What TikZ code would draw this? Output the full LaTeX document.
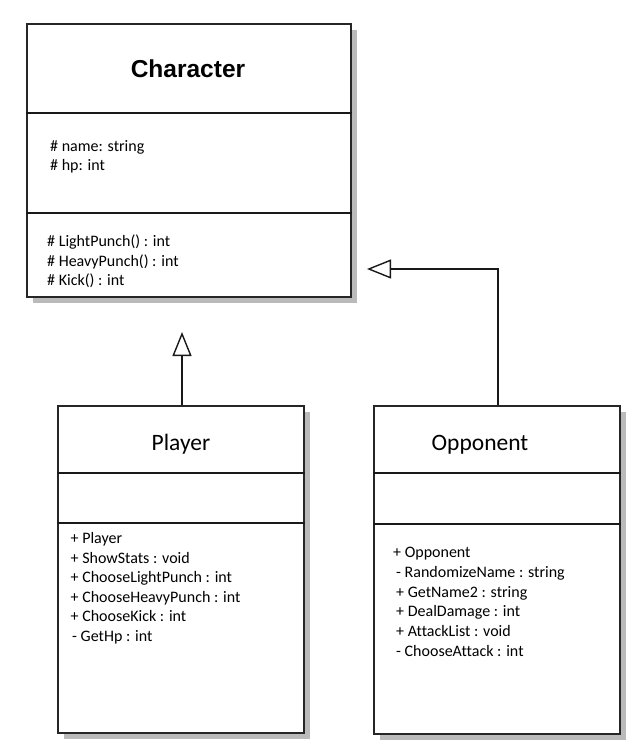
\documentclass[tikz,border=0pt]{standalone}
\usepackage{fontspec}
\setmainfont{Carlito}[Ligatures=NoCommon]
\newfontfamily\arialf{Liberation Sans}
\usetikzlibrary{arrows.meta,shadows}
\begin{document}
\begin{tikzpicture}[x=1pt,y=-1pt,
  cls/.style={draw=black!85, fill=white, rectangle, inner sep=0pt, anchor=north west,
    drop shadow={opacity=1, fill=black!27, shadow xshift=6pt, shadow yshift=-6pt}},
  div/.style={draw=black!90, line width=1.4pt},
  attr/.style={anchor=base west, inner sep=0pt, font=\fontsize{16}{19}\selectfont},
  ttl/.style={anchor=base, inner sep=0pt, font=\fontsize{23.5}{28}\selectfont},
  gen/.style={draw=black!90, line width=1.5pt, -{Triangle[open, length=24pt, width=19pt, line width=1.4pt]}}]
\useasboundingbox (0,0) rectangle (629,745);
\fill[white] (0,0) rectangle (629,745);

% Character
\node[cls, line width=2.2pt, minimum width=324pt, minimum height=273pt] (ch) at (26,23) {};
\draw[div] (ch.west |- 0,113) -- (ch.east |- 0,113);
\draw[div] (ch.west |- 0,213) -- (ch.east |- 0,213);
\node[anchor=base, inner sep=0pt, font=\arialf\bfseries\fontsize{24.5}{28}\selectfont] (cht) at (188,77) {Character};
\foreach \t [count=\i] in {{\# name: string},{\# hp: int}}
  \node[attr] (ca\i) at (50,{151+19.8*(\i-1)}) {\t};
\foreach \t [count=\i] in {{\# LightPunch() : int},{\# HeavyPunch() : int},{\# Kick() : int}}
  \node[attr] (cm\i) at (47,{246.5+19.5*(\i-1)}) {\t};

% Player
\node[cls, line width=1.8pt, minimum width=246pt, minimum height=327pt] (pl) at (57,405) {};
\draw[div] (pl.west |- 0,473) -- (pl.east |- 0,473);
\draw[div] (pl.west |- 0,523) -- (pl.east |- 0,523);
\node[ttl] (plt) at (181,450) {Player};
\foreach \t [count=\i] in {{+ Player},{+ ShowStats : void},{+ ChooseLightPunch : int},{+ ChooseHeavyPunch : int},{+ ChooseKick : int},{\hspace{1.5pt}- GetHp : int}}
  \node[attr] (pm\i) at (70.5,{543.5+19.5*(\i-1)}) {\t};

% Opponent
\node[cls, line width=1.8pt, minimum width=246pt, minimum height=328pt] (op) at (373,405) {};
\draw[div] (op.west |- 0,473) -- (op.east |- 0,473);
\draw[div] (op.west |- 0,524) -- (op.east |- 0,524);
\node[ttl] (opt) at (480,450) {Opponent};
\foreach \t [count=\i] in {{+ Opponent},{\hspace{3pt}- RandomizeName : string},{\hspace{3pt}+ GetName2 : string},{\hspace{3pt}+ DealDamage : int},{\hspace{3pt}+ AttackList : void},{\hspace{3pt}- ChooseAttack : int}}
  \node[attr] (om\i) at (393,{557.5+19.8*(\i-1)}) {\t};

% Generalisations
\coordinate (t1) at (182,332);
\coordinate (t2) at (367,269);
\draw[gen] (t1 |- pl.north) -- (t1);
\draw[gen] (498,0 |- op.north) -- (498,269) -- (t2);
\end{tikzpicture}
\end{document}
